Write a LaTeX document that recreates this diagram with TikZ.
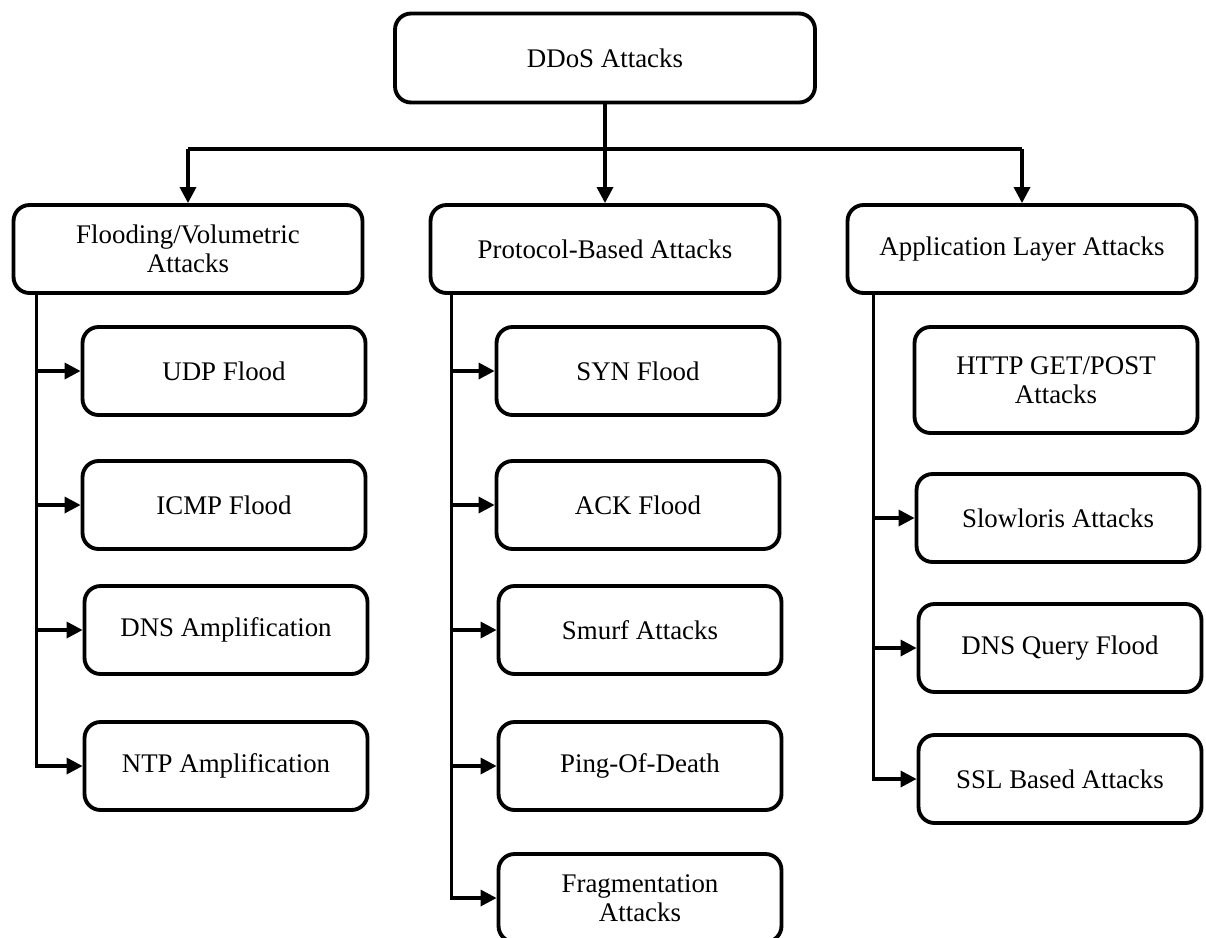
\documentclass[tikz,border=0pt]{standalone}
\usepackage{fontspec}
\setmainfont{Liberation Serif}
\usetikzlibrary{arrows.meta,calc}

\begin{document}
\begin{tikzpicture}[x=0.02cm, y=-0.02cm,
    font=\fontsize{15.3}{16.5}\selectfont,
    box/.style={draw, line width=2.2pt, rounded corners=0.32cm, align=center, inner sep=2pt},
    root/.style={box, minimum width=8.4cm, minimum height=1.78cm},
    group/.style={box, minimum width=6.98cm, minimum height=1.76cm},
    leaf/.style={box, minimum width=5.66cm, minimum height=1.76cm},
    link/.style={line width=1.9pt},
    arrow/.style={link, -{Triangle[length=0.32cm,width=0.32cm]}}]

  \clip (0,0) rectangle (1206,937);

  % Top level and the three groups
  \node[root] (ddos) at (605,58) {DDoS Attacks};
  \node[group] (flood) at (188,249) {Flooding/Volumetric\\Attacks};
  \node[group] (proto) at (605,249) {Protocol-Based Attacks};
  \node[group] (app) at (1022,249) {Application Layer Attacks};

  % Bar between root and groups
  \coordinate (bar) at (605,149);
  \draw[link] (ddos.south) -- (bar);
  \draw[link] (flood.north |- bar) -- (app.north |- bar);
  \foreach \g in {flood,proto,app}
    \draw[arrow] (\g.north |- bar) -- (\g.north);

  % Flooding/Volumetric column
  \foreach \name/\cx/\cy/\txt in {
      udp/224/371/{UDP Flood},
      icmp/224/505/{ICMP Flood},
      dnsamp/226/630/{DNS Amplification},
      ntp/226/766/{NTP Amplification}}
    \node[leaf] (\name) at (\cx,\cy) {\txt};
  \coordinate (ltrunk) at ($(flood.south west)+(25,0)$);
  \draw[arrow] (ltrunk) |- (ntp.west);
  \foreach \name in {udp,icmp,dnsamp}
    \draw[arrow] (ltrunk |- \name.west) -- (\name.west);

  % Protocol-Based column
  \foreach \name/\cx/\cy/\txt in {
      syn/638/371/{SYN Flood},
      ack/638/505/{ACK Flood},
      smurf/640/630/{Smurf Attacks},
      pod/640/766/{Ping-Of-Death},
      frag/640/898/{Fragmentation\\Attacks}}
    \node[leaf] (\name) at (\cx,\cy) {\txt};
  \coordinate (mtrunk) at ($(proto.south west)+(23,0)$);
  \draw[arrow] (mtrunk) |- (frag.west);
  \foreach \name in {syn,ack,smurf,pod}
    \draw[arrow] (mtrunk |- \name.west) -- (\name.west);

  % Application Layer column
  \node[leaf, minimum height=2.12cm] (http) at (1056,380) {HTTP GET/POST\\Attacks};
  \foreach \name/\cx/\cy/\txt in {
      slow/1058/518/{Slowloris Attacks},
      dnsq/1060/648/{DNS Query Flood},
      ssl/1060/779/{SSL Based Attacks}}
    \node[leaf] (\name) at (\cx,\cy) {\txt};
  \coordinate (rtrunk) at ($(app.south west)+(28,0)$);
  \draw[arrow] (rtrunk) |- (ssl.west);
  \foreach \name in {slow,dnsq}
    \draw[arrow] (rtrunk |- \name.west) -- (\name.west);
\end{tikzpicture}
\end{document}
